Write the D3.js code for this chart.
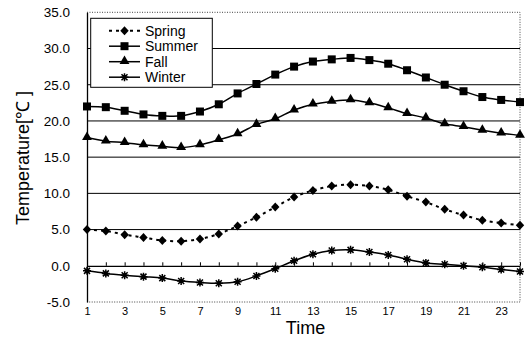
<!DOCTYPE html>
<html>
<head>
<meta charset="utf-8">
<script src="https://cdnjs.cloudflare.com/ajax/libs/d3/7.8.5/d3.min.js"></script>
<style>
  body { margin: 0; background: #fff; }
  svg { display: block; font-family: Arial, "Liberation Sans", sans-serif; }
</style>
</head>
<body>
<div id="chart"></div>
<script>
// hours of the day
var hours = d3.range(1, 25);

var spring = [5.0, 4.8, 4.3, 3.9, 3.5, 3.4, 3.7, 4.4, 5.5, 6.7, 8.1, 9.5,
              10.4, 11.0, 11.2, 11.0, 10.5, 9.6, 8.8, 7.8, 7.0, 6.3, 5.9, 5.6];
var summer = [22.0, 21.9, 21.4, 20.9, 20.7, 20.7, 21.3, 22.3, 23.8, 25.1, 26.4, 27.5,
              28.2, 28.5, 28.7, 28.4, 27.9, 27.0, 26.0, 25.0, 24.1, 23.3, 22.9, 22.6];
var fall = [17.7, 17.2, 17.0, 16.7, 16.5, 16.3, 16.7, 17.4, 18.2, 19.5, 20.3, 21.5,
            22.3, 22.7, 22.9, 22.5, 21.8, 21.0, 20.4, 19.6, 19.2, 18.7, 18.3, 18.0];
var winter = [-0.7, -1.05, -1.3, -1.5, -1.7, -2.1, -2.3, -2.4, -2.2, -1.4, -0.4, 0.7,
              1.6, 2.1, 2.2, 1.9, 1.5, 0.9, 0.4, 0.2, 0.0, -0.2, -0.5, -0.8];

var seriesNames = ["Spring", "Summer", "Fall", "Winter"];
var yTicks = [-5, 0, 5, 10, 15, 20, 25, 30, 35];
var xLabelTicks = [1, 3, 5, 7, 9, 11, 13, 15, 17, 19, 21, 23];

var series = [
  {name: seriesNames[0], values: spring, marker: "diamond", dash: "3,4"},
  {name: seriesNames[1], values: summer, marker: "square", dash: null},
  {name: seriesNames[2], values: fall, marker: "triangle", dash: null},
  {name: seriesNames[3], values: winter, marker: "star", dash: null}
];

var width = 529, height = 338;
var plot = {left: 87, right: 520, top: 12.3, bottom: 302};

var x = d3.scaleLinear().domain([1, 24]).range([plot.left, plot.right]);
var y = d3.scaleLinear().domain([-5, 35]).range([plot.bottom, plot.top]);

var svg = d3.select("#chart").append("svg")
  .attr("width", width)
  .attr("height", height);

// gridlines
svg.append("g").selectAll("line")
  .data(yTicks.filter(function(d) { return d > 0 && d < 35; }))
  .enter().append("line")
  .attr("x1", plot.left).attr("x2", plot.right)
  .attr("y1", function(d) { return y(d); })
  .attr("y2", function(d) { return y(d); })
  .attr("stroke", "#000").attr("stroke-width", 1);

// dotted frame (top, right, bottom)
svg.append("path")
  .attr("d", "M" + plot.left + "," + y(35) + "H" + plot.right + "V" + y(-5) + "H" + plot.left)
  .attr("fill", "none")
  .attr("stroke", "#444")
  .attr("stroke-width", 1)
  .attr("stroke-dasharray", "1,1.5");

// y axis
var yAxis = svg.append("g")
  .attr("transform", "translate(" + plot.left + ",0)")
  .call(d3.axisLeft(y).tickValues(yTicks).tickSize(0).tickPadding(17)
    .tickFormat(function(d) { return d.toFixed(1); }));
yAxis.select(".domain").attr("stroke", "#000").attr("stroke-width", 1.3);
yAxis.selectAll("text").attr("font-size", "13.5px").attr("fill", "#000")
  .attr("font-family", "Arial, 'Liberation Sans', sans-serif");

// zero axis with small upward ticks
var zeroAxis = svg.append("g")
  .attr("transform", "translate(0," + y(0) + ")")
  .call(d3.axisBottom(x).tickValues(hours).tickSizeInner(-3.5).tickSizeOuter(0).tickFormat(""));
zeroAxis.select(".domain").attr("stroke", "#000").attr("stroke-width", 1.3);
zeroAxis.selectAll(".tick line").attr("stroke", "#000");

// x labels at the bottom
var xAxis = svg.append("g")
  .attr("transform", "translate(0," + plot.bottom + ")")
  .call(d3.axisBottom(x).tickValues(xLabelTicks).tickSize(0).tickPadding(5)
    .tickFormat(d3.format("d")));
xAxis.select(".domain").remove();
xAxis.selectAll("text").attr("font-size", "11px").attr("fill", "#000")
  .attr("font-family", "Arial, 'Liberation Sans', sans-serif");

// axis titles
svg.append("text")
  .attr("x", (plot.left + plot.right) / 2 + 2)
  .attr("y", 334)
  .attr("text-anchor", "middle")
  .attr("font-size", "18px")
  .text("Time");

svg.append("text")
  .attr("transform", "translate(29,158) rotate(-90)")
  .attr("text-anchor", "middle")
  .attr("font-size", "18px")
  .text("Temperature[\u2103 ]");

// marker shapes
function drawMarker(g, type, cx, cy) {
  if (type === "diamond") {
    g.append("path")
      .attr("d", "M" + cx + "," + (cy - 4.5) + "L" + (cx + 4.2) + "," + cy
        + "L" + cx + "," + (cy + 4.5) + "L" + (cx - 4.2) + "," + cy + "Z")
      .attr("fill", "#000");
  } else if (type === "square") {
    g.append("rect").attr("x", cx - 4).attr("y", cy - 4)
      .attr("width", 8).attr("height", 8).attr("fill", "#000");
  } else if (type === "triangle") {
    g.append("path").attr("d", d3.symbol().type(d3.symbolTriangle).size(42)())
      .attr("transform", "translate(" + cx + "," + (cy - 0.5) + ")").attr("fill", "#000");
  } else {
    var s = 4;
    g.append("path")
      .attr("d", "M" + (cx - s) + "," + cy + "H" + (cx + s)
        + "M" + cx + "," + (cy - s) + "V" + (cy + s)
        + "M" + (cx - s * 0.75) + "," + (cy - s * 0.75) + "L" + (cx + s * 0.75) + "," + (cy + s * 0.75)
        + "M" + (cx - s * 0.75) + "," + (cy + s * 0.75) + "L" + (cx + s * 0.75) + "," + (cy - s * 0.75))
      .attr("stroke", "#000").attr("stroke-width", 1.5).attr("fill", "none");
  }
}

var line = d3.line()
  .x(function(d, i) { return x(hours[i]); })
  .y(function(d) { return y(d); })
  .curve(d3.curveCatmullRom.alpha(0.5));

series.forEach(function(s) {
  var g = svg.append("g");
  g.append("path")
    .attr("d", line(s.values))
    .attr("fill", "none")
    .attr("stroke", "#000")
    .attr("stroke-width", s.dash ? 2 : 1.5)
    .attr("stroke-dasharray", s.dash);
  s.values.forEach(function(v, i) {
    drawMarker(g, s.marker, x(hours[i]), y(v));
  });
});

// legend
var legend = svg.append("g");
legend.append("rect")
  .attr("x", 90.7).attr("y", 18.3)
  .attr("width", 121.6).attr("height", 69)
  .attr("fill", "#fff").attr("stroke", "#000").attr("stroke-width", 1);

series.forEach(function(s, i) {
  var ly = 30.7 + i * 15.5;
  var g = legend.append("g");
  g.append("line")
    .attr("x1", 109).attr("x2", 140)
    .attr("y1", ly).attr("y2", ly)
    .attr("stroke", "#000")
    .attr("stroke-width", s.dash ? 2 : 1.5)
    .attr("stroke-dasharray", s.dash);
  drawMarker(g, s.marker, 124.5, ly);
  g.append("text")
    .attr("x", 145).attr("y", ly + 5)
    .attr("font-size", "14px")
    .text(s.name);
});
</script>
</body>
</html>
